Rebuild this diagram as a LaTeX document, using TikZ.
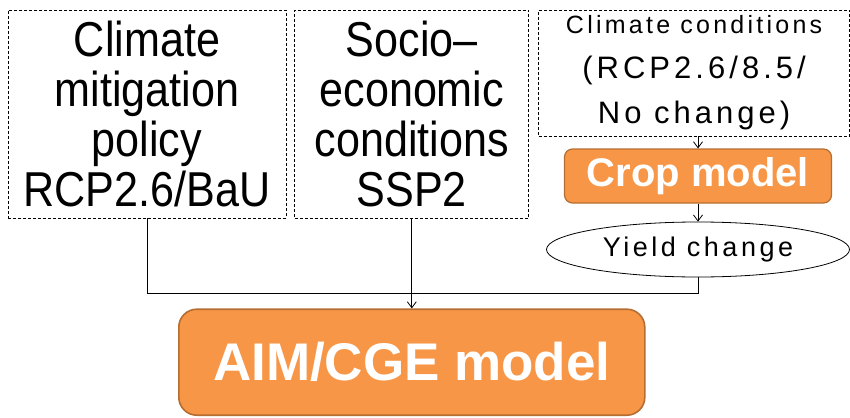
\documentclass[tikz,border=0pt]{standalone}
\usepackage{fontspec}
\setmainfont{Liberation Sans}
\newfontfamily\gothic[FakeStretch=0.88]{Liberation Sans}
\newfontfamily\gothicwide[LetterSpace=13]{Liberation Sans}
\usetikzlibrary{positioning,arrows.meta,shapes.geometric}
\definecolor{modelfill}{HTML}{F79646}
\definecolor{modeldraw}{HTML}{B66D31}
\tikzset{
  input/.style={draw, dash pattern=on 3pt off 2pt, line width=0.8pt, inner sep=0pt, align=center},
  model/.style={draw=modeldraw, fill=modelfill, text=white, rounded corners=#1, inner sep=2pt, align=center},
  model/.default=8pt,
  flow/.style={line width=0.8pt}
}

\begin{document}
\begin{tikzpicture}[x=1pt,y=-1pt,>={Straight Barb[length=6pt,width=9pt]}]
        \useasboundingbox (0,0) rectangle (850,417);

        % scenario inputs
        \node[input, minimum width=278pt, minimum height=208pt,
              font=\gothic\fontsize{49}{50}\selectfont](policy) at (147,114)
              {Climate\\mitigation\\policy\\RCP2.6/BaU};
        \node[input, minimum width=234pt, minimum height=208pt, right=8pt of policy,
              font=\gothic\fontsize{49}{50}\selectfont](socio)
              {Socio–\\economic\\conditions\\SSP2};
        \node[input, minimum width=311pt, minimum height=126pt,
              right=9pt of socio.north east, anchor=north west,
              font=\gothicwide\fontsize{31}{45}\selectfont](climate)
              {{\fontsize{25}{45}\selectfont Climate conditions}\\(RCP2.6/8.5/\\No change)};

        % models
        \node[model, line width=1.2pt, minimum width=267pt, minimum height=54pt,
              font=\bfseries\fontsize{40}{40}\selectfont](crop) at (698,176) {Crop model};
        \node[draw, ellipse, line width=0.8pt, minimum width=303pt, minimum height=55pt,
              inner sep=0pt, below=18pt of crop,
              font=\gothicwide\fontsize{27}{27}\selectfont](yield) {Yield change};
        \node[model=18pt, line width=1.6pt, minimum width=466pt, minimum height=106pt,
              below=90pt of socio,
              font=\bfseries\fontsize{53}{53}\selectfont](aim) {AIM/CGE model};

        \coordinate (join) at ([yshift=15pt]aim.north);

        \draw[flow] (policy.south) |- (join);
        \draw[flow] (yield.south) |- (join);
        \draw[flow,->] (socio.south) -- (aim.north);
        \draw[flow,->] (crop.north |- climate.south) -- (crop.north);
        \draw[flow,->] (crop.south) -- (yield.north);
\end{tikzpicture}
\end{document}
